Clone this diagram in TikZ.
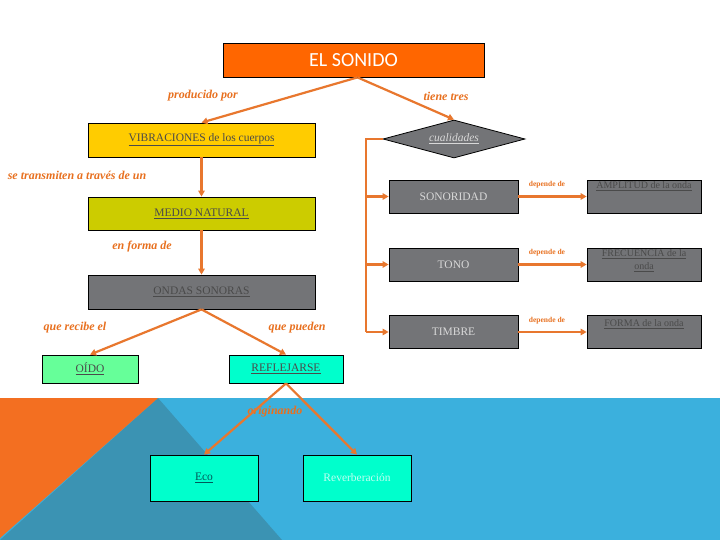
\documentclass[tikz,border=0pt]{standalone}
\usepackage{fontspec}
\setmainfont{Liberation Serif}
\newfontfamily\titlefont{Carlito}
\usetikzlibrary{shapes.geometric,arrows.meta}
\definecolor{arr}{HTML}{E8772E}
\definecolor{lbl}{HTML}{E8701F}
\definecolor{sonidofill}{HTML}{FF6600}
\definecolor{goldfill}{HTML}{FFCC00}
\definecolor{olivefill}{HTML}{CCCC00}
\definecolor{grayfill}{HTML}{737477}
\definecolor{greenfill}{HTML}{66FF99}
\definecolor{cyanfill}{HTML}{00FFCC}
\definecolor{bgblue}{HTML}{3BB0DD}
\definecolor{bgdark}{HTML}{3B93B3}
\definecolor{bgorange}{HTML}{F36F21}
\definecolor{darktext}{HTML}{4A4A4A}
\definecolor{lighttext}{HTML}{D8D8D8}
\newcommand\myul[1]{\underline{#1}}
\begin{document}
\begin{tikzpicture}[x=1pt,y=-1pt,
  box/.style={draw=black,line width=0.8pt,inner sep=0pt,align=center},
  conn/.style={draw=arr,line width=2.2pt,-{Triangle[length=6pt,width=6.5pt]}},
  trunk/.style={draw=arr,line width=2.2pt},
  lab/.style={text=lbl,font=\fontsize{12}{14}\selectfont\itshape\bfseries,inner sep=1pt},
  dep/.style={text=lbl,font=\fontsize{7.5}{9}\selectfont\bfseries,inner sep=1pt},
  btext/.style={font=\fontsize{11.5}{13}\selectfont},
  rtext/.style={text=darktext,font=\fontsize{10}{12.5}\selectfont,align=center,inner sep=1pt},
  cbox/.style={box,fill=grayfill,minimum width=129pt,minimum height=33pt,text=lighttext,font=\fontsize{11.5}{13}\selectfont},
  rbox/.style={box,fill=grayfill,minimum width=114pt,minimum height=33pt}
]
\useasboundingbox (0,0) rectangle (720,540);
\fill[white] (0,0) rectangle (720,540);
\fill[bgblue] (0,398) rectangle (720,540);
\fill[bgdark] (158,398) -- (282,540) -- (0,540) -- cycle;
\fill[bgorange] (0,398) -- (158,398) -- (0,538) -- cycle;

% main boxes
\node[box,fill=sonidofill,minimum width=261pt,minimum height=34pt,text=white,font=\titlefont\fontsize{20}{24}\selectfont] (sonido) at (353.5,60) {EL SONIDO};
\node[box,fill=goldfill,minimum width=227pt,minimum height=34pt,text=darktext,btext] (vib) at (201.5,140) {\myul{VIBRACIONES de los cuerpos}};
\node[box,fill=olivefill,minimum width=227pt,minimum height=33pt,text=darktext,btext] (medio) at (201.5,213.5) {\myul{MEDIO NATURAL}};
\node[box,fill=grayfill,minimum width=227pt,minimum height=34pt,text=darktext,btext] (ondas) at (201.5,292) {\myul{ONDAS SONORAS}};
\node[box,fill=greenfill,minimum width=96pt,minimum height=28pt,text=darktext,btext] (oido) at (90,369) {\myul{OÍDO}};
\node[box,fill=cyanfill,minimum width=114pt,minimum height=28pt,text=darktext,btext] (refl) at (286,369) {\myul{REFLEJARSE}};
\node[box,fill=cyanfill,minimum width=108pt,minimum height=46pt,text=teal!70!black,btext] (eco) at (204,478) {\myul{Eco}};
\node[box,fill=cyanfill,minimum width=108pt,minimum height=46pt,text=cyanfill!25!white,btext] (reverb) at (357,478) {Reverberación};

\node[diamond,draw=black,line width=0.8pt,fill=grayfill,minimum width=142pt,minimum height=38pt,inner sep=0pt,aspect=3.7,text=lighttext,font=\fontsize{11.5}{13}\selectfont\itshape] (cual) at (454,139) {\myul{cualidades}};

% qualities
\node[cbox] (sonor) at (453.5,196.5) {SONORIDAD};
\node[cbox] (tono) at (453.5,264.5) {TONO};
\node[cbox] (timbre) at (453.5,332) {TIMBRE};
\node[rbox] (ampbox) at (644,196.5) {};
\node[rbox] (frebox) at (644,264.5) {};
\node[rbox] (forbox) at (644,332) {};
\node[rtext,anchor=north] (amp) at ([yshift=-1pt]ampbox.north) {\myul{AMPLITUD de la onda}};
\node[rtext,anchor=north] (fre) at ([yshift=-1pt]frebox.north) {\myul{FRECUENCIA de la}\\\myul{onda}};
\node[rtext,anchor=north] (for) at ([yshift=-3pt]forbox.north) {\myul{FORMA de la onda}};

% labels
\node[lab] (l1) at (203,96) {producido por};
\node[lab] (l2) at (446,96) {tiene tres};
\node[lab] (l3) at (77,175) {se transmiten a través de un};
\node[lab] (l4) at (142,247) {en forma de};
\node[lab] (l5) at (75,328) {que recibe el};
\node[lab] (l6) at (297,328) {que pueden};
\node[lab] (l7) at (275,412) {originando};
\node[dep] (d1) at (547,185) {depende de};
\node[dep] (d2) at (547,253) {depende de};
\node[dep] (d3) at (547,321) {depende de};

% connectors
\draw[conn] ([xshift=4pt]sonido.south) -- (vib.north);
\draw[conn] ([xshift=4pt]sonido.south) -- (cual.north);
\draw[conn] (vib.south) -- (medio.north);
\draw[conn] (medio.south) -- (ondas.north);
\draw[conn] (ondas.south) -- (oido.north);
\draw[conn] (ondas.south) -- (refl.north);
\draw[conn] (refl.south) -- (eco.north);
\draw[conn] (refl.south) -- (reverb.north);

\coordinate (t1) at (366,196.5);
\coordinate (t2) at (366,264.5);
\coordinate (t3) at (366,332);
\draw[trunk] (cual.west) -| (t3);
\draw[conn] (t1) -- (sonor.west);
\draw[conn] (t2) -- (tono.west);
\draw[conn] (t3) -- (timbre.west);
\draw[conn] (sonor.east) -- (ampbox.west);
\draw[conn] (tono.east) -- (frebox.west);
\draw[conn] (timbre.east) -- (forbox.west);
\end{tikzpicture}
\end{document}
